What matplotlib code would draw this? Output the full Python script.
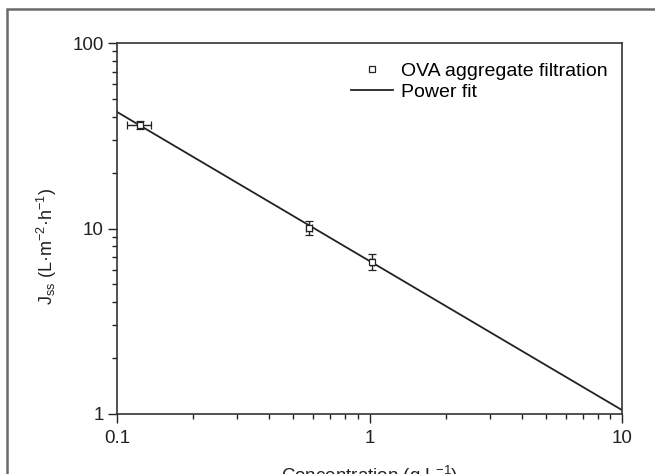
import numpy as np
import matplotlib
matplotlib.use('Agg')
import matplotlib.pyplot as plt
from matplotlib.ticker import FuncFormatter, LogLocator, NullFormatter
from matplotlib.patches import Rectangle
from matplotlib.lines import Line2D

plt.rcParams['font.family'] = ['Liberation Sans', 'DejaVu Sans']
plt.rcParams['mathtext.fontset'] = 'custom'
plt.rcParams['mathtext.rm'] = 'Liberation Sans'
plt.rcParams['mathtext.it'] = 'Liberation Sans'
plt.rcParams['mathtext.bf'] = 'Liberation Sans'
plt.rcParams['mathtext.default'] = 'regular'

# measured points (concentration g/L, flux)
conc = [0.123, 0.575, 1.02]
flux = [36.2, 10.1, 6.6]
conc_err = [0.013, 0.015, 0.02]
flux_err = [1.8, 0.9, 0.65]

# power fit line at the axis ends
fit_x = [0.1, 10]
fit_y = [42.5, 1.05]

xticks = [0.1, 1, 10]
yticks = [1, 10, 100]

fig = plt.figure(figsize=(6.55, 4.74), dpi=100)
ax = fig.add_axes([117/655, 1 - 414/474, (622-117)/655, (414-43)/474])

ax.plot(fit_x, fit_y, color='#222222', lw=1.3)
ax.errorbar(conc, flux, xerr=conc_err, yerr=flux_err, fmt='s', mfc='white',
            mec='#222222', ms=5, mew=0.9, ecolor='#222222', elinewidth=1.0,
            capsize=3, capthick=1.0, zorder=3)

ax.set_xscale('log')
ax.set_yscale('log')
ax.set_xlim(0.1, 10)
ax.set_ylim(1, 100)

fmt = FuncFormatter(lambda v, p: '{:g}'.format(v))
ax.set_xticks(xticks)
ax.set_yticks(yticks)
ax.xaxis.set_major_formatter(fmt)
ax.yaxis.set_major_formatter(fmt)
ax.xaxis.set_minor_locator(LogLocator(base=10, subs=np.arange(2, 10)))
ax.yaxis.set_minor_locator(LogLocator(base=10, subs=np.arange(2, 10)))
ax.xaxis.set_minor_formatter(NullFormatter())
ax.yaxis.set_minor_formatter(NullFormatter())
ax.tick_params(which='major', direction='out', length=6.5, width=1.0, labelsize=13.5, colors='#222222')
ax.tick_params(which='minor', direction='out', length=3.5, width=1.0, colors='#222222')
ax.tick_params(axis='x', pad=5)
ax.tick_params(axis='y', pad=3)
for s in ax.spines.values():
    s.set_linewidth(1.2)
    s.set_color('#333333')

h_pts = Line2D([], [], ls='none', marker='s', ms=4, mfc='white', mec='#222222', mew=0.9)
h_fit = Line2D([], [], color='#222222', lw=1.3)
ax.legend([h_pts, h_fit], ['OVA aggregate filtration', 'Power fit'], loc='upper right',
          frameon=False, fontsize=14, handlelength=2.2, handletextpad=0.4,
          borderaxespad=0.2, labelspacing=0.2, bbox_to_anchor=(0.995, 0.98))

fig.text(370/655, -0.016, 'Concentration (g.L$^{-1}$)', ha='center', va='baseline',
         fontsize=13.5, color='#222222')
fig.text(47/655, 1 - 246/474, 'J$_{ss}$ (L·m$^{-2}$·h$^{-1}$)', ha='center', va='center',
         rotation=90, fontsize=13, color='#222222')

# outer frame of the panel (left and top edges visible)
fig.patches.append(Rectangle((7/655, -0.1), 1.0, 1.1 - 9/474, transform=fig.transFigure,
                             fill=False, edgecolor='#6a6a6a', lw=1.8))

fig.savefig('out.png', dpi=100)
